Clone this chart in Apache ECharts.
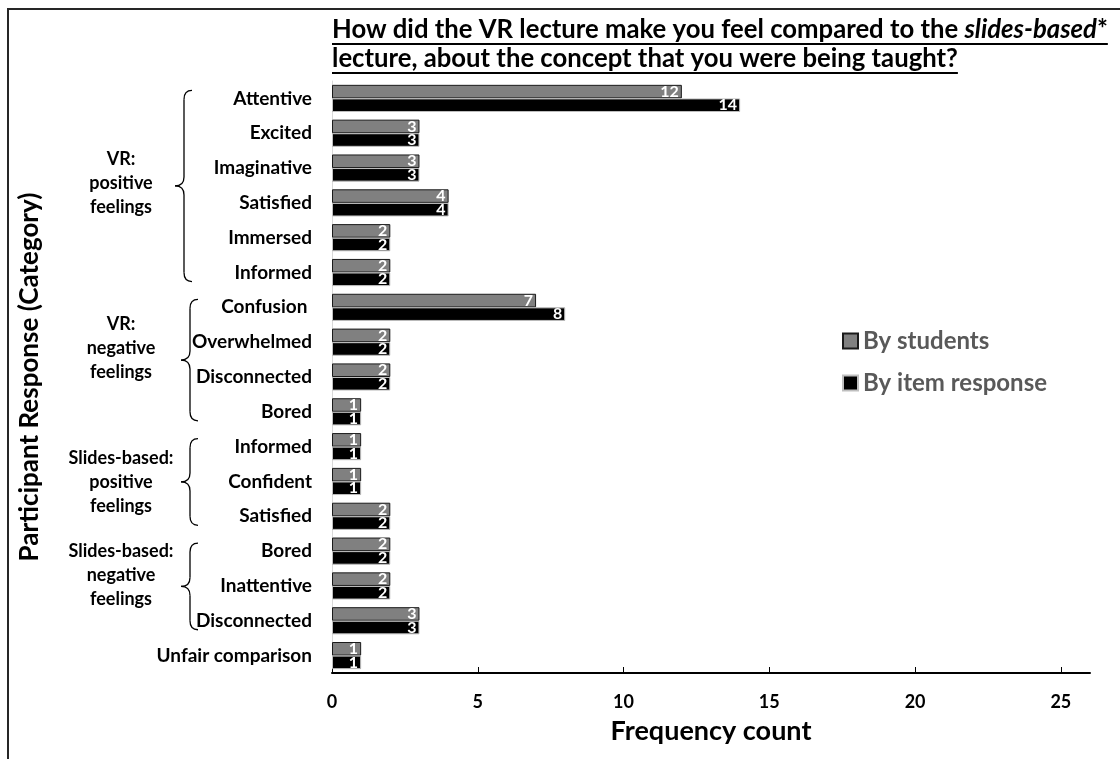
<!DOCTYPE html>
<html>
<head>
<meta charset="utf-8">
<script src="https://cdn.jsdelivr.net/npm/echarts@6.0.0/dist/echarts.min.js"></script>
<style>
  html, body { margin: 0; padding: 0; background: #ffffff; }
  #chart { width: 1120px; height: 759px; }
</style>
</head>
<body>
<div id="chart"></div>
<script>
// Response categories, top to bottom
const categories = [
  'Attentive', 'Excited', 'Imaginative', 'Satisfied', 'Immersed', 'Informed',
  'Confusion ', 'Overwhelmed', 'Disconnected', 'Bored',
  'Informed', 'Confident', 'Satisfied',
  'Bored', 'Inattentive', 'Disconnected',
  'Unfair comparison'
];
const byStudents     = [12, 3, 3, 4, 2, 2, 7, 2, 2, 1, 1, 1, 2, 2, 2, 3, 1];
const byItemResponse = [14, 3, 3, 4, 2, 2, 8, 2, 2, 1, 1, 1, 2, 2, 2, 3, 1];
const seriesNames = ['By students', 'By item response'];
const xTicks = [0, 5, 10, 15, 20, 25];
const xMax = 26;

// Category groups (first and last category index of each)
const groupLabels = [
  'VR:\npositive\nfeelings',
  'VR:\nnegative\nfeelings',
  'Slides-based:\npositive\nfeelings',
  'Slides-based:\nnegative\nfeelings'
];
const groupRanges = [[0, 5], [6, 9], [10, 12], [13, 15]];

// Question text, split into runs (italic where marked)
const titleLines = [
  [{ t: 'How did the VR lecture make you feel compared to the ' }, { t: 'slides-based', italic: true }, { t: '*' }],
  [{ t: 'lecture, about the concept that you were being taught?' }]
];

const FONT = 'Lato';
const chart = echarts.init(document.getElementById('chart'), null, { renderer: 'canvas' });

const labelStyle = {
  show: true,
  position: 'insideRight',
  distance: 3,
  color: '#ffffff',
  fontWeight: 'bold',
  fontSize: 16,
  fontFamily: FONT
};

chart.setOption({
  animation: false,
  backgroundColor: '#ffffff',
  textStyle: { fontFamily: FONT },
  grid: { left: 332, right: 30, top: 81, bottom: 86, containLabel: false, outerBoundsMode: 'none' },
  legend: {
    data: seriesNames,
    orient: 'vertical',
    left: 842,
    top: 329,
    padding: 0,
    icon: 'rect',
    itemWidth: 15,
    itemHeight: 15,
    itemGap: 18,
    textStyle: { fontSize: 24, fontWeight: 'bold', color: '#595959', fontFamily: FONT }
  },
  xAxis: {
    type: 'value',
    min: 0,
    max: xMax,
    interval: 5,
    name: 'Frequency count',
    nameLocation: 'middle',
    nameGap: 45,
    nameTextStyle: { fontSize: 27, fontWeight: 'bold', color: '#000000', fontFamily: FONT },
    axisLine: { show: true, lineStyle: { color: '#000000', width: 2 } },
    axisTick: { show: true, inside: true, length: 6, customValues: xTicks, lineStyle: { color: '#000000', width: 1 } },
    axisLabel: { customValues: xTicks, fontSize: 18, fontWeight: 'bold', color: '#000000', margin: 20, fontFamily: FONT },
    splitLine: { show: false }
  },
  yAxis: {
    type: 'category',
    data: categories,
    inverse: true,
    name: 'Participant Response (Category)',
    nameLocation: 'middle',
    nameGap: 289,
    nameRotate: 90,
    nameTextStyle: { fontSize: 26, fontWeight: 'bold', color: '#000000', fontFamily: FONT },
    axisLine: { show: true, lineStyle: { color: '#d9d9d9', width: 1 } },
    axisTick: { show: false },
    axisLabel: { interval: 0, fontSize: 19, fontWeight: 'bold', color: '#000000', margin: 20, fontFamily: FONT },
    splitLine: { show: false }
  },
  series: [
    {
      name: seriesNames[0],
      type: 'bar',
      data: byStudents,
      barGap: '0%',
      barCategoryGap: '22%',
      itemStyle: { color: '#808080', borderColor: '#1a1a1a', borderWidth: 1 },
      label: labelStyle
    },
    {
      name: seriesNames[1],
      type: 'bar',
      data: byItemResponse,
      barGap: '0%',
      barCategoryGap: '22%',
      itemStyle: { color: '#000000', borderColor: '#bfbfbf', borderWidth: 1 },
      label: labelStyle
    }
  ]
});

// Text measurement for the underlined question
const measureCtx = document.createElement('canvas').getContext('2d');
function textWidth(str, size, italic) {
  measureCtx.font = (italic ? 'italic ' : '') + 'bold ' + size + 'px ' + FONT;
  return measureCtx.measureText(str).width;
}

// Left-pointing curly brace built from lines and quadratic curves
function braceParts(x, yTop, yBot, yTip) {
  const r = 9, arm = 8, tip = 9;
  const st = { stroke: '#000000', lineWidth: 1.3, fill: 'none' };
  return [
    { type: 'bezierCurve', shape: { x1: x + arm, y1: yTop, cpx1: x, cpy1: yTop, x2: x, y2: yTop + r }, style: st, silent: true },
    { type: 'line', shape: { x1: x, y1: yTop + r, x2: x, y2: yTip - r }, style: st, silent: true },
    { type: 'bezierCurve', shape: { x1: x, y1: yTip - r, cpx1: x, cpy1: yTip, x2: x - tip, y2: yTip }, style: st, silent: true },
    { type: 'bezierCurve', shape: { x1: x - tip, y1: yTip, cpx1: x, cpy1: yTip, x2: x, y2: yTip + r }, style: st, silent: true },
    { type: 'line', shape: { x1: x, y1: yTip + r, x2: x, y2: yBot - r }, style: st, silent: true },
    { type: 'bezierCurve', shape: { x1: x, y1: yBot - r, cpx1: x, cpy1: yBot, x2: x + arm, y2: yBot }, style: st, silent: true }
  ];
}

function buildGraphics() {
  const g = [];

  // Outer frame
  g.push({
    type: 'rect',
    shape: { x: 8, y: 9, width: 1300, height: 900 },
    style: { fill: 'none', stroke: '#262626', lineWidth: 2 },
    silent: true
  });

  // Underlined question above the plot
  const titleSize = 25.7;
  const titleLeft = 332;
  const lineMid = [29.5, 58.5];
  const underlineY = [44, 73];
  titleLines.forEach((runs, li) => {
    let x = titleLeft;
    runs.forEach(run => {
      g.push({
        type: 'text',
        x: x,
        y: lineMid[li],
        style: {
          text: run.t,
          fontSize: titleSize,
          fontWeight: 'bold',
          fontStyle: run.italic ? 'italic' : 'normal',
          fontFamily: FONT,
          fill: '#000000',
          align: 'left',
          verticalAlign: 'middle'
        },
        silent: true
      });
      x += textWidth(run.t, titleSize, run.italic);
    });
    g.push({
      type: 'line',
      shape: { x1: titleLeft, y1: underlineY[li], x2: x, y2: underlineY[li] },
      style: { stroke: '#000000', lineWidth: 2 },
      silent: true
    });
  });

  // Group braces and their labels, placed from the category axis
  const braceX = [184, 190, 190, 190];
  const labelShift = [-3, -12, 0, -11];
  groupRanges.forEach((range, gi) => {
    const yFirst = chart.convertToPixel({ yAxisIndex: 0 }, range[0]);
    const yLast = chart.convertToPixel({ yAxisIndex: 0 }, range[1]);
    const yTop = yFirst - 8;
    const yBot = yLast + 9;
    const yTip = (yTop + yBot) / 2;
    braceParts(braceX[gi], yTop, yBot, yTip).forEach(p => g.push(p));
    g.push({
      type: 'text',
      x: 121,
      y: yTip + labelShift[gi],
      style: {
        text: groupLabels[gi],
        fontSize: 18,
        fontWeight: 'bold',
        fontFamily: FONT,
        fill: '#000000',
        align: 'center',
        verticalAlign: 'middle',
        lineHeight: 24
      },
      silent: true
    });
  });
  return g;
}

chart.setOption({ graphic: buildGraphics() });
</script>
</body>
</html>
